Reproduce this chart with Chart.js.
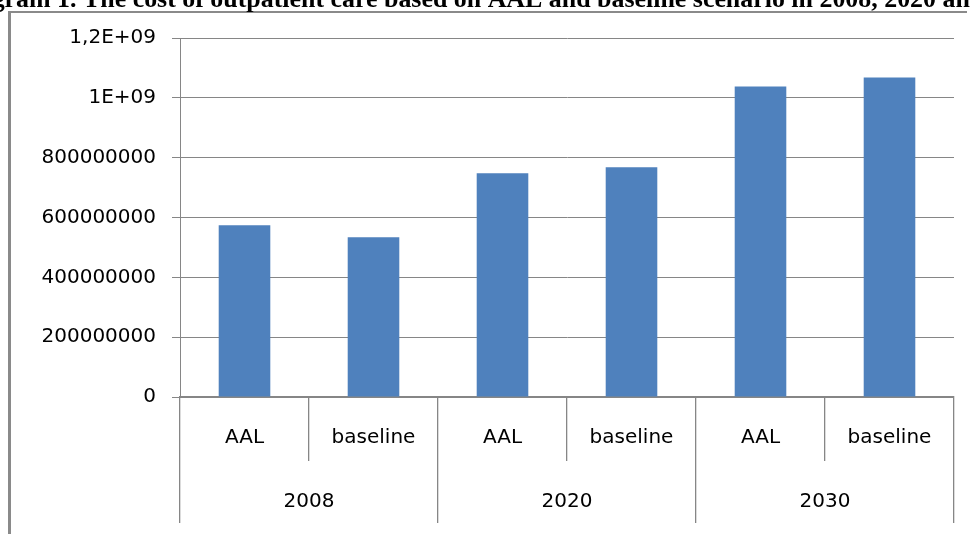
<!DOCTYPE html>
<html>
<head>
<meta charset="utf-8">
<script src="https://cdn.jsdelivr.net/npm/chart.js@4/dist/chart.umd.min.js"></script>
<style>
  html, body { margin: 0; padding: 0; background: #ffffff; }
  canvas { display: block; }
</style>
</head>
<body>
<canvas id="chart" width="970" height="534"></canvas>
<script>
// Outpatient care cost by scenario and year
const years = ['2008', '2020', '2030'];
const scenarioLabels = ['AAL', 'baseline', 'AAL', 'baseline', 'AAL', 'baseline'];
const costValues = [574000000, 534000000, 748000000, 768000000, 1038000000, 1068000000];
const yMax = 1200000000;
const yStep = 200000000;
const titleText = 'Diagram 1. The cost of outpatient care based on AAL and baseline scenario in 2008, 2020 and 2030';

const GRID = '#868686';
const BAR = '#4F81BD';
const LABEL_FONT = { family: 'DejaVu Sans', size: 20, lineHeight: 1.2 };

// Spreadsheet "General" style: large numbers switch to exponent form with a decimal comma
function generalFormat(v) {
  if (v >= 1e9) {
    const e = Math.floor(Math.log10(v));
    const m = +(v / Math.pow(10, e)).toFixed(2);
    return String(m).replace('.', ',') + 'E+' + String(e).padStart(2, '0');
  }
  return String(v);
}

// Outer frame and the caption line above it
const framePlugin = {
  id: 'frame',
  beforeDraw(chart) {
    const ctx = chart.ctx;
    ctx.save();
    ctx.fillStyle = '#ffffff';
    ctx.fillRect(0, 0, chart.width, chart.height);
    ctx.strokeStyle = '#8a8a8a';
    ctx.lineWidth = 3;
    ctx.beginPath();
    ctx.moveTo(9.5, chart.height + 5);
    ctx.lineTo(9.5, 11);
    ctx.stroke();
    ctx.lineWidth = 2;
    ctx.beginPath();
    ctx.moveTo(8, 12);
    ctx.lineTo(967, 12);
    ctx.stroke();

    ctx.fillStyle = '#000000';
    ctx.font = 'bold 100px "Liberation Serif"';
    const tail = 'The cost of outpatient care based on AAL and baseline scenario in 2008, 2020 an';
    const size = 100 * 887 / ctx.measureText(tail).width;
    ctx.font = 'bold ' + size.toFixed(2) + 'px "Liberation Serif"';
    const lead = ctx.measureText('Diagram 1. ').width;
    ctx.textBaseline = 'alphabetic';
    ctx.fillText(titleText, 83 - lead, 6.5);
    ctx.restore();
  }
};

new Chart(document.getElementById('chart'), {
  type: 'bar',
  data: {
    labels: scenarioLabels,
    datasets: [{
      data: costValues,
      backgroundColor: BAR,
      borderWidth: 0,
      categoryPercentage: 1,
      barPercentage: 0.4,
      xAxisID: 'x',
      yAxisID: 'y'
    }]
  },
  options: {
    responsive: false,
    animation: false,
    events: [],
    layout: { padding: { top: 38, right: 16, bottom: 11, left: 0 } },
    plugins: {
      legend: { display: false },
      title: { display: false },
      tooltip: { enabled: false }
    },
    scales: {
      y: {
        min: 0,
        max: yMax,
        ticks: {
          stepSize: yStep,
          color: '#000000',
          font: LABEL_FONT,
          padding: 16,
          callback: (v) => generalFormat(v)
        },
        grid: { color: GRID, lineWidth: 1, tickLength: 8, tickColor: GRID },
        border: { display: true, color: GRID, width: 1 },
        afterFit(scale) { scale.width = 180; }
      },
      x: {
        type: 'category',
        weight: 0,
        offset: true,
        ticks: {
          color: '#000000',
          font: { family: 'DejaVu Sans', size: 20, lineHeight: 1.2 },
          padding: -35,
          maxRotation: 0,
          autoSkip: false
        },
        grid: { offset: true, drawOnChartArea: false, tickLength: 64, color: GRID, tickColor: GRID, lineWidth: 1.3 },
        border: { display: true, color: GRID, width: 2 },
        afterFit(scale) { scale.height = 64; }
      },
      x2: {
        type: 'category',
        position: 'bottom',
        weight: 1,
        labels: years,
        offset: true,
        ticks: {
          color: '#000000',
          font: { family: 'DejaVu Sans', size: 20, lineHeight: 1.2 },
          padding: -33,
          maxRotation: 0,
          autoSkip: false
        },
        grid: { offset: true, drawOnChartArea: false, tickLength: 62, color: GRID, tickColor: GRID, lineWidth: 1.3 },
        border: { display: false },
        afterFit(scale) { scale.height = 62; }
      }
    }
  },
  plugins: [framePlugin]
});
</script>
</body>
</html>
